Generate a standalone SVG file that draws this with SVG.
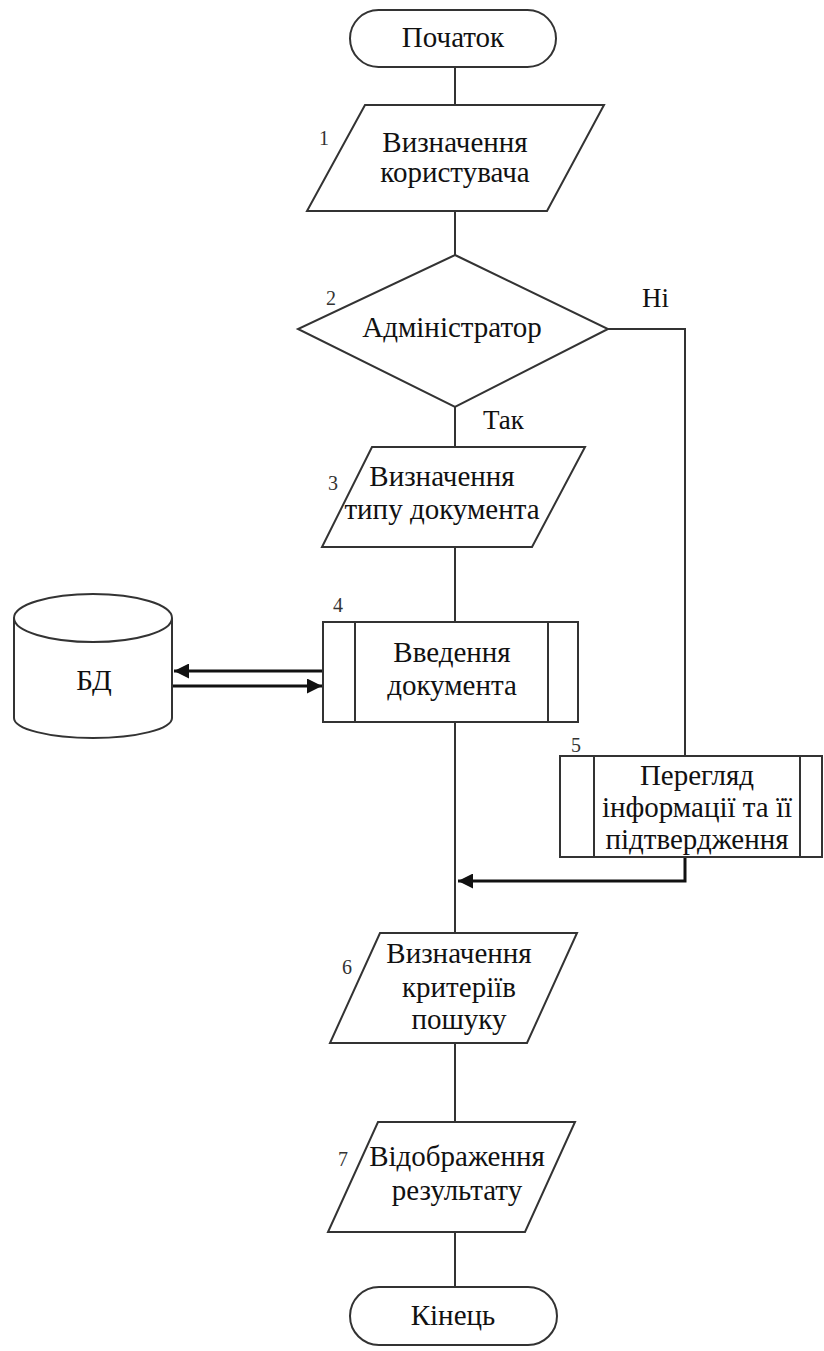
<svg xmlns="http://www.w3.org/2000/svg" width="824" height="1351" viewBox="0 0 824 1351">
<defs>
<style>
.s{fill:#fff;stroke:#333;stroke-width:2}
.l{fill:none;stroke:#333;stroke-width:2}
.a{fill:none;stroke:#111;stroke-width:3}
.t{font-family:'Liberation Serif','DejaVu Serif',serif;font-size:29px;fill:#111;text-anchor:middle}
.n{font-family:'Liberation Serif','DejaVu Serif',serif;font-size:20px;fill:#333}
.lb{font-family:'Liberation Serif','DejaVu Serif',serif;font-size:27px;fill:#111}
</style>
<marker id="ah" viewBox="0 0 10 10" refX="10" refY="5" markerWidth="5" markerHeight="5" orient="auto" markerUnits="strokeWidth">
<path d="M0,0 L10,5 L0,10 z" fill="#111"/>
</marker>
</defs>
<rect width="824" height="1351" fill="#fff"/>
<g id="connectors">
<line class="l" x1="455" y1="67" x2="455" y2="105"/>
<line class="l" x1="455" y1="211" x2="455" y2="255"/>
<line class="l" x1="455" y1="407" x2="455" y2="447"/>
<line class="l" x1="455" y1="547" x2="455" y2="622"/>
<line class="l" x1="455" y1="722" x2="455" y2="933"/>
<line class="l" x1="455" y1="1043" x2="455" y2="1122"/>
<line class="l" x1="455" y1="1232" x2="455" y2="1287"/>
<polyline class="l" points="608,329 685,329 685,756"/>
<polyline class="a" points="685,857 685,881 458,881" marker-end="url(#ah)"/>
<line class="a" x1="323" y1="671" x2="174" y2="671" marker-end="url(#ah)"/>
<line class="a" x1="172" y1="686" x2="322" y2="686" marker-end="url(#ah)"/>
<text class="lb" x="642" y="307">Ні</text>
<text class="lb" x="483" y="429">Так</text>
</g>
<g id="start">
<rect class="s" x="350" y="10" width="206" height="57" rx="28.5"/>
<text class="t" x="453" y="47">Початок</text>
</g>
<g id="n1">
<polygon class="s" points="365,105 604,105 547,211 307,211"/>
<text class="n" x="319" y="145">1</text>
<text class="t" x="455" y="152">Визначення</text>
<text class="t" x="455" y="182">користувача</text>
</g>
<g id="n2">
<polygon class="s" points="455,255 608,329 455,407 298,329"/>
<text class="n" x="326" y="305">2</text>
<text class="t" x="452" y="337">Адміністратор</text>
</g>
<g id="n3">
<polygon class="s" points="372,447 585,447 532,547 322,547"/>
<text class="n" x="328" y="490">3</text>
<text class="t" x="442" y="486">Визначення</text>
<text class="t" x="442" y="519">типу документа</text>
</g>
<g id="n4">
<rect class="s" x="323" y="622" width="255" height="100"/>
<line class="l" x1="355" y1="622" x2="355" y2="722"/>
<line class="l" x1="548" y1="622" x2="548" y2="722"/>
<text class="n" x="333" y="612">4</text>
<text class="t" x="452" y="662">Введення</text>
<text class="t" x="452" y="695">документа</text>
</g>
<g id="db">
<path class="s" d="M14,618 L14,718 A79,20 0 0 0 172,718 L172,618"/>
<ellipse class="s" cx="93" cy="618" rx="79" ry="24"/>
<text class="t" x="94" y="690">БД</text>
</g>
<g id="n5">
<rect class="s" x="560" y="756" width="262" height="101"/>
<line class="l" x1="594" y1="756" x2="594" y2="857"/>
<line class="l" x1="800" y1="756" x2="800" y2="857"/>
<text class="n" x="571" y="752">5</text>
<text class="t" x="697" y="785">Перегляд</text>
<text class="t" x="697" y="817">інформації та її</text>
<text class="t" x="697" y="849">підтвердження</text>
</g>
<g id="n6">
<polygon class="s" points="380,933 577,933 527,1043 330,1043"/>
<text class="n" x="342" y="974">6</text>
<text class="t" x="459" y="963">Визначення</text>
<text class="t" x="459" y="997">критеріїв</text>
<text class="t" x="459" y="1029">пошуку</text>
</g>
<g id="n7">
<polygon class="s" points="378,1122 575,1122 525,1232 328,1232"/>
<text class="n" x="338" y="1166">7</text>
<text class="t" x="457" y="1166">Відображення</text>
<text class="t" x="457" y="1200">результату</text>
</g>
<g id="end">
<rect class="s" x="350" y="1287" width="207" height="58" rx="29"/>
<text class="t" x="453" y="1325">Кінець</text>
</g>
</svg>
